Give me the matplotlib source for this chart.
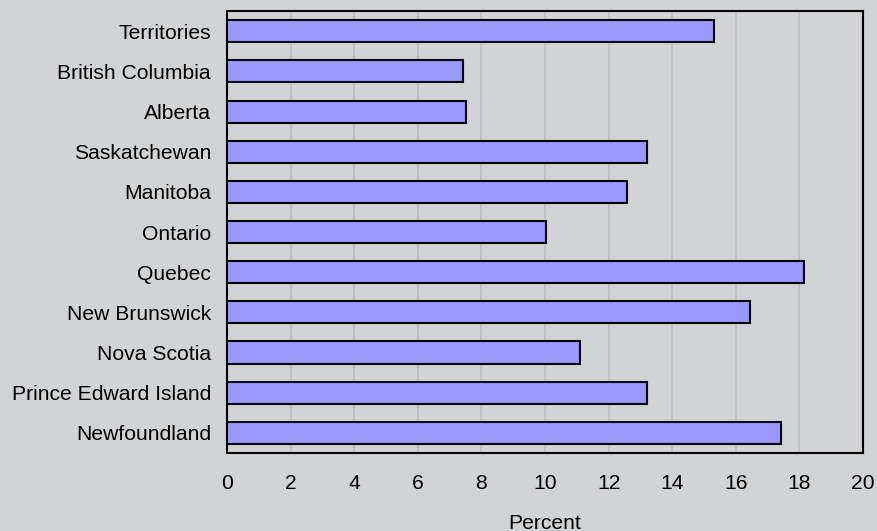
import matplotlib
matplotlib.use("Agg")
import matplotlib.pyplot as plt

provinces = ["Newfoundland", "Prince Edward Island", "Nova Scotia", "New Brunswick",
             "Quebec", "Ontario", "Manitoba", "Saskatchewan", "Alberta",
             "British Columbia", "Territories"]
percent = [17.43, 13.22, 11.09, 16.43, 18.13, 10.02, 12.59, 13.22, 7.51, 7.43, 15.30]
xticks = [0, 2, 4, 6, 8, 10, 12, 14, 16, 18, 20]

plt.rcParams['font.family'] = ['Liberation Sans', 'DejaVu Sans']

bg = "#d2d3d5"
fs = 15.2
fig = plt.figure(figsize=(8.78, 5.31), dpi=100, facecolor=bg)
ax = fig.add_axes([0.2585, 0.147, 0.7245, 0.832])
ax.set_facecolor(bg)

ypos = list(range(len(provinces)))
ax.barh(ypos, percent, height=0.55, color="#9999ff", edgecolor="black", linewidth=1.5, zorder=3)

ax.set_xlim(0, 20)
ax.set_ylim(-0.5, len(provinces) - 0.5)
ax.set_xticks(xticks)
ax.set_xticklabels([str(t) for t in xticks], fontsize=fs)
ax.set_yticks(ypos)
ax.set_yticklabels(provinces, fontsize=fs)
ax.tick_params(axis='both', length=0)
ax.tick_params(axis='y', pad=11.5)
ax.tick_params(axis='x', pad=15)
ax.xaxis.grid(True, color="#bfc0c2", linewidth=1.5, zorder=0)
ax.set_axisbelow(True)
for s in ax.spines.values():
    s.set_color("black")
    s.set_linewidth(1.5)
ax.set_xlabel("Percent", fontsize=fs, labelpad=15)

fig.savefig("out.png", dpi=100, facecolor=bg)
